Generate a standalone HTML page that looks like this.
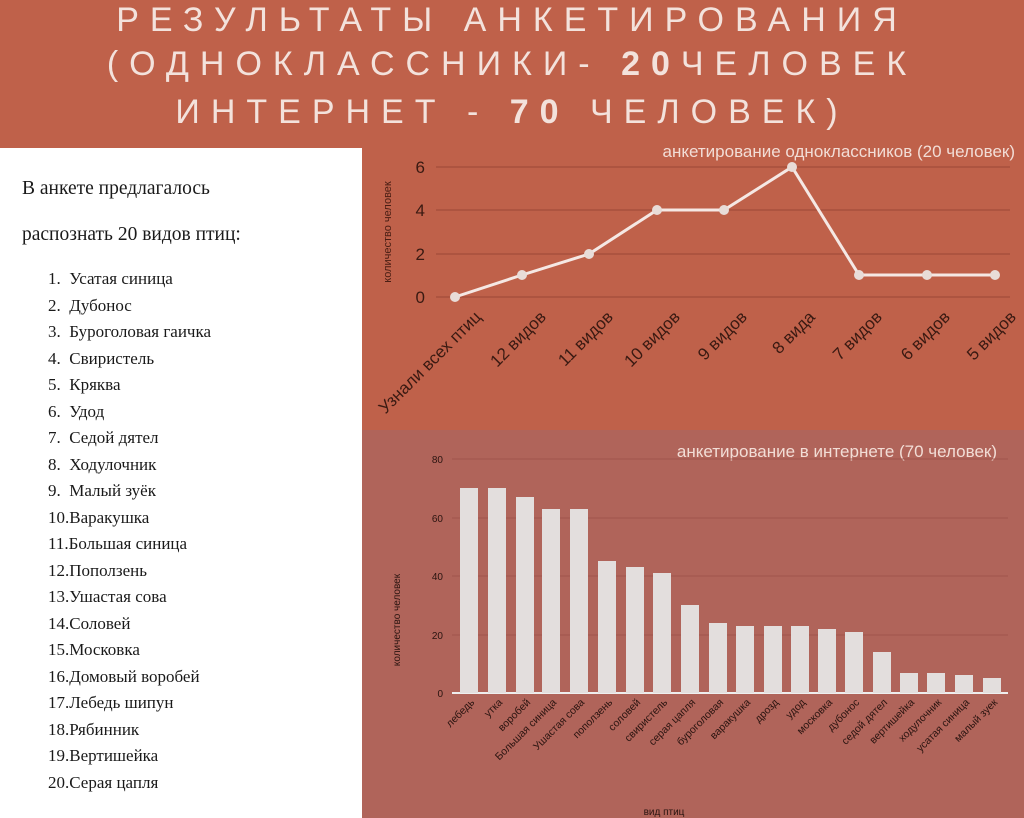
<!DOCTYPE html>
<html><head><meta charset="utf-8"><style>
body{margin:0;width:1024px;height:818px;overflow:hidden;background:#bf614a;position:relative;font-family:"Liberation Sans","DejaVu Sans",sans-serif}
.t{position:absolute;left:0;width:1024px;text-align:center;color:#f3e2dc;font-size:34px;letter-spacing:11px;line-height:40px}
#lp{position:absolute;left:0;top:148px;width:362px;height:670px;background:#fff;font-family:"Liberation Serif",serif;color:#1a1a1a}
#low{position:absolute;left:362px;top:430px;width:662px;height:388px;background:#b0645a}
</style></head><body>
<div class="t" style="top:0">РЕЗУЛЬТАТЫ АНКЕТИРОВАНИЯ</div>
<div class="t" style="top:44px">(ОДНОКЛАССНИКИ- <b>20</b>ЧЕЛОВЕК</div>
<div class="t" style="top:92px">ИНТЕРНЕТ - <b>70</b> ЧЕЛОВЕК)</div>
<div id="low"></div>
<div id="lp">
<div style="position:absolute;left:22px;top:30px;font-size:19.5px">В анкете предлагалось</div>
<div style="position:absolute;left:22px;top:76px;font-size:19.5px">распознать 20 видов птиц:</div>
<div style="position:absolute;left:48px;top:118px;font-size:17px;line-height:26.5px">
1.&nbsp; Усатая синица<br>2.&nbsp; Дубонос<br>3.&nbsp; Буроголовая гаичка<br>4.&nbsp; Свиристель<br>5.&nbsp; Кряква<br>6.&nbsp; Удод<br>7.&nbsp; Седой дятел<br>8.&nbsp; Ходулочник<br>9.&nbsp; Малый зуёк<br>10.Варакушка<br>11.Большая синица<br>12.Поползень<br>13.Ушастая сова<br>14.Соловей<br>15.Московка<br>16.Домовый воробей<br>17.Лебедь шипун<br>18.Рябинник<br>19.Вертишейка<br>20.Серая цапля</div>
</div>
<svg width="1024" height="818" style="position:absolute;left:0;top:0" font-family="Liberation Sans, sans-serif">
<text x="1015" y="157" text-anchor="end" fill="#f2ddd6" font-size="17">анкетирование одноклассников (20 человек)</text>
<g stroke="#a24c3a" stroke-width="1.2">
<line x1="436" x2="1010" y1="167" y2="167"/><line x1="436" x2="1010" y1="210" y2="210"/><line x1="436" x2="1010" y1="254" y2="254"/><line x1="436" x2="1010" y1="297" y2="297"/></g>
<g fill="#3a1a12" font-size="17" text-anchor="end"><text x="425" y="173">6</text><text x="425" y="216">4</text><text x="425" y="260">2</text><text x="425" y="303">0</text></g>
<text transform="translate(391,232) rotate(-90)" text-anchor="middle" font-size="11" fill="#4a1e14">количество человек</text>
<polyline fill="none" stroke="#f5e8e4" stroke-width="3" points="455,297 522,275 589,254 657,210 724,210 792,167 859,275 927,275 995,275"/>
<g fill="#e8dcd8"><circle cx="455" cy="297" r="5"/><circle cx="522" cy="275" r="5"/><circle cx="589" cy="254" r="5"/><circle cx="657" cy="210" r="5"/><circle cx="724" cy="210" r="5"/><circle cx="792" cy="167" r="5"/><circle cx="859" cy="275" r="5"/><circle cx="927" cy="275" r="5"/><circle cx="995" cy="275" r="5"/></g>
<g fill="#3a1a12" font-size="17" text-anchor="end">
<text transform="translate(482,318) rotate(-45)">Узнали всех птиц</text>
<text transform="translate(547,318) rotate(-45)">12 видов</text>
<text transform="translate(614,318) rotate(-45)">11 видов</text>
<text transform="translate(681,318) rotate(-45)">10 видов</text>
<text transform="translate(748,318) rotate(-45)">9 видов</text>
<text transform="translate(816,318) rotate(-45)">8 вида</text>
<text transform="translate(883,318) rotate(-45)">7 видов</text>
<text transform="translate(951,318) rotate(-45)">6 видов</text>
<text transform="translate(1017,318) rotate(-45)">5 видов</text></g>
<text x="997" y="457" text-anchor="end" fill="#f2ddd6" font-size="17">анкетирование в интернете (70 человек)</text>
<g stroke="#a0554c" stroke-width="1"><line x1="452" x2="1008" y1="459" y2="459"/><line x1="452" x2="1008" y1="518" y2="518"/><line x1="452" x2="1008" y1="576" y2="576"/><line x1="452" x2="1008" y1="635" y2="635"/></g>
<line x1="452" x2="1008" y1="693" y2="693" stroke="#eee" stroke-width="2"/>
<g fill="#2a1410" font-size="10" text-anchor="end"><text x="443" y="463">80</text><text x="443" y="522">60</text><text x="443" y="580">40</text><text x="443" y="639">20</text><text x="443" y="697">0</text></g>
<text transform="translate(400,620) rotate(-90)" text-anchor="middle" font-size="10" fill="#2a1410">количество человек</text>
<g fill="#e3dedd">
<rect x="460" y="488" width="18" height="205"/><rect x="488" y="488" width="18" height="205"/><rect x="516" y="497" width="18" height="196"/><rect x="542" y="509" width="18" height="184"/><rect x="570" y="509" width="18" height="184"/><rect x="598" y="561" width="18" height="132"/><rect x="626" y="567" width="18" height="126"/><rect x="653" y="573" width="18" height="120"/><rect x="681" y="605" width="18" height="88"/><rect x="709" y="623" width="18" height="70"/><rect x="736" y="626" width="18" height="67"/><rect x="764" y="626" width="18" height="67"/><rect x="791" y="626" width="18" height="67"/><rect x="818" y="629" width="18" height="64"/><rect x="845" y="632" width="18" height="61"/><rect x="873" y="652" width="18" height="41"/><rect x="900" y="673" width="18" height="20"/><rect x="927" y="673" width="18" height="20"/><rect x="955" y="675" width="18" height="18"/><rect x="983" y="678" width="18" height="15"/></g>
<g fill="#2a1410" font-size="10.5" text-anchor="end">
<text transform="translate(475,703) rotate(-45)">лебедь</text>
<text transform="translate(503,703) rotate(-45)">утка</text>
<text transform="translate(531,703) rotate(-45)">воробей</text>
<text transform="translate(557,703) rotate(-45)">Большая синица</text>
<text transform="translate(585,703) rotate(-45)">Ушастая сова</text>
<text transform="translate(613,703) rotate(-45)">поползень</text>
<text transform="translate(641,703) rotate(-45)">соловей</text>
<text transform="translate(668,703) rotate(-45)">свиристель</text>
<text transform="translate(696,703) rotate(-45)">серая цапля</text>
<text transform="translate(724,703) rotate(-45)">буроголовая</text>
<text transform="translate(751,703) rotate(-45)">варакушка</text>
<text transform="translate(779,703) rotate(-45)">дрозд</text>
<text transform="translate(806,703) rotate(-45)">удод</text>
<text transform="translate(833,703) rotate(-45)">московка</text>
<text transform="translate(860,703) rotate(-45)">дубонос</text>
<text transform="translate(888,703) rotate(-45)">седой дятел</text>
<text transform="translate(915,703) rotate(-45)">вертишейка</text>
<text transform="translate(942,703) rotate(-45)">ходулочник</text>
<text transform="translate(970,703) rotate(-45)">усатая синица</text>
<text transform="translate(998,703) rotate(-45)">малый зуек</text></g>
<text x="664" y="815" text-anchor="middle" font-size="10" fill="#2a1410">вид птиц</text>
</svg>
</body></html>
